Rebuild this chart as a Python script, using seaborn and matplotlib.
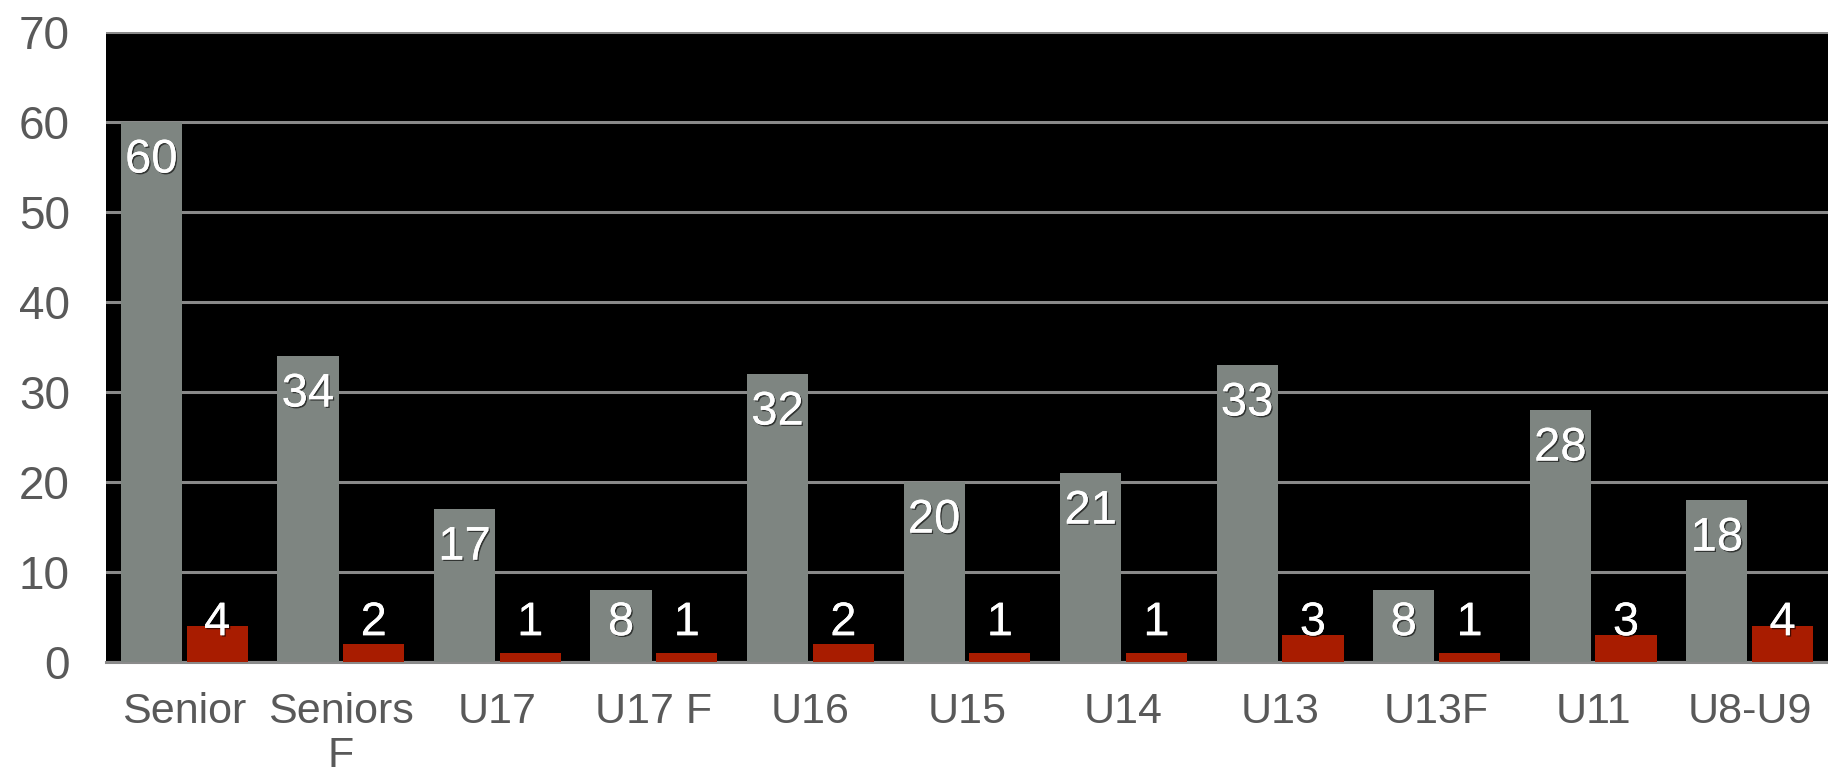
import seaborn as sns
import matplotlib.pyplot as plt
import matplotlib.patheffects as pe
import pandas as pd

categories = ['Senior', 'Seniors\nF', 'U17', 'U17 F', 'U16', 'U15', 'U14', 'U13', 'U13F', 'U11', 'U8-U9']
players = [60, 34, 17, 8, 32, 20, 21, 33, 8, 28, 18]
teams = [4, 2, 1, 1, 2, 1, 1, 3, 1, 3, 4]

df = pd.DataFrame({
    'cat': categories * 2,
    'value': players + teams,
    'serie': ['players'] * len(categories) + ['teams'] * len(categories),
})

sns.set_style('white')
plt.rcParams['font.family'] = ['Liberation Sans', 'DejaVu Sans']

fig = plt.figure(figsize=(18.28, 7.76), dpi=100)
ax = fig.add_axes([0.058, 0.147, 0.942, 0.812])
ax.set_facecolor('black')

sns.barplot(data=df, x='cat', y='value', hue='serie', order=categories,
            palette=['#7e8581', '#a81c00'], saturation=1, width=0.84, gap=0.07,
            linewidth=0, legend=False, ax=ax, zorder=3)

ax.set_ylim(0, 70)
ax.set_xlim(-0.5, len(categories) - 0.5)
ax.set_yticks(range(0, 71, 10))
ax.yaxis.grid(True, color='#8a8a8a', linewidth=2.2, zorder=1)
ax.xaxis.grid(False)
ax.set_axisbelow(True)
for s in ['left', 'right', 'top']:
    ax.spines[s].set_visible(False)
ax.spines['bottom'].set_color('#8a8a8a')
ax.spines['bottom'].set_linewidth(2.2)
ax.set_xlabel('')
ax.set_ylabel('')
ax.tick_params(axis='y', labelsize=33, labelcolor='#595959', length=0, pad=26)
ax.tick_params(axis='x', labelsize=31, labelcolor='#595959', length=0, pad=22)
for t in ax.get_xticklabels():
    t.set_linespacing(1.12)

shadow = [pe.withSimplePatchShadow(offset=(1, -1), shadow_rgbFace='black', alpha=0.6), pe.Normal()]
for cont in ax.containers:
    for bar in cont:
        v = bar.get_height()
        y = max(v - 4.3, 4.3)
        ax.text(bar.get_x() + bar.get_width() / 2, y, f'{v:.0f}', ha='center', va='center',
                fontsize=34, color='white', zorder=5, path_effects=shadow)

fig.savefig('out.png', dpi=100, facecolor='white')
